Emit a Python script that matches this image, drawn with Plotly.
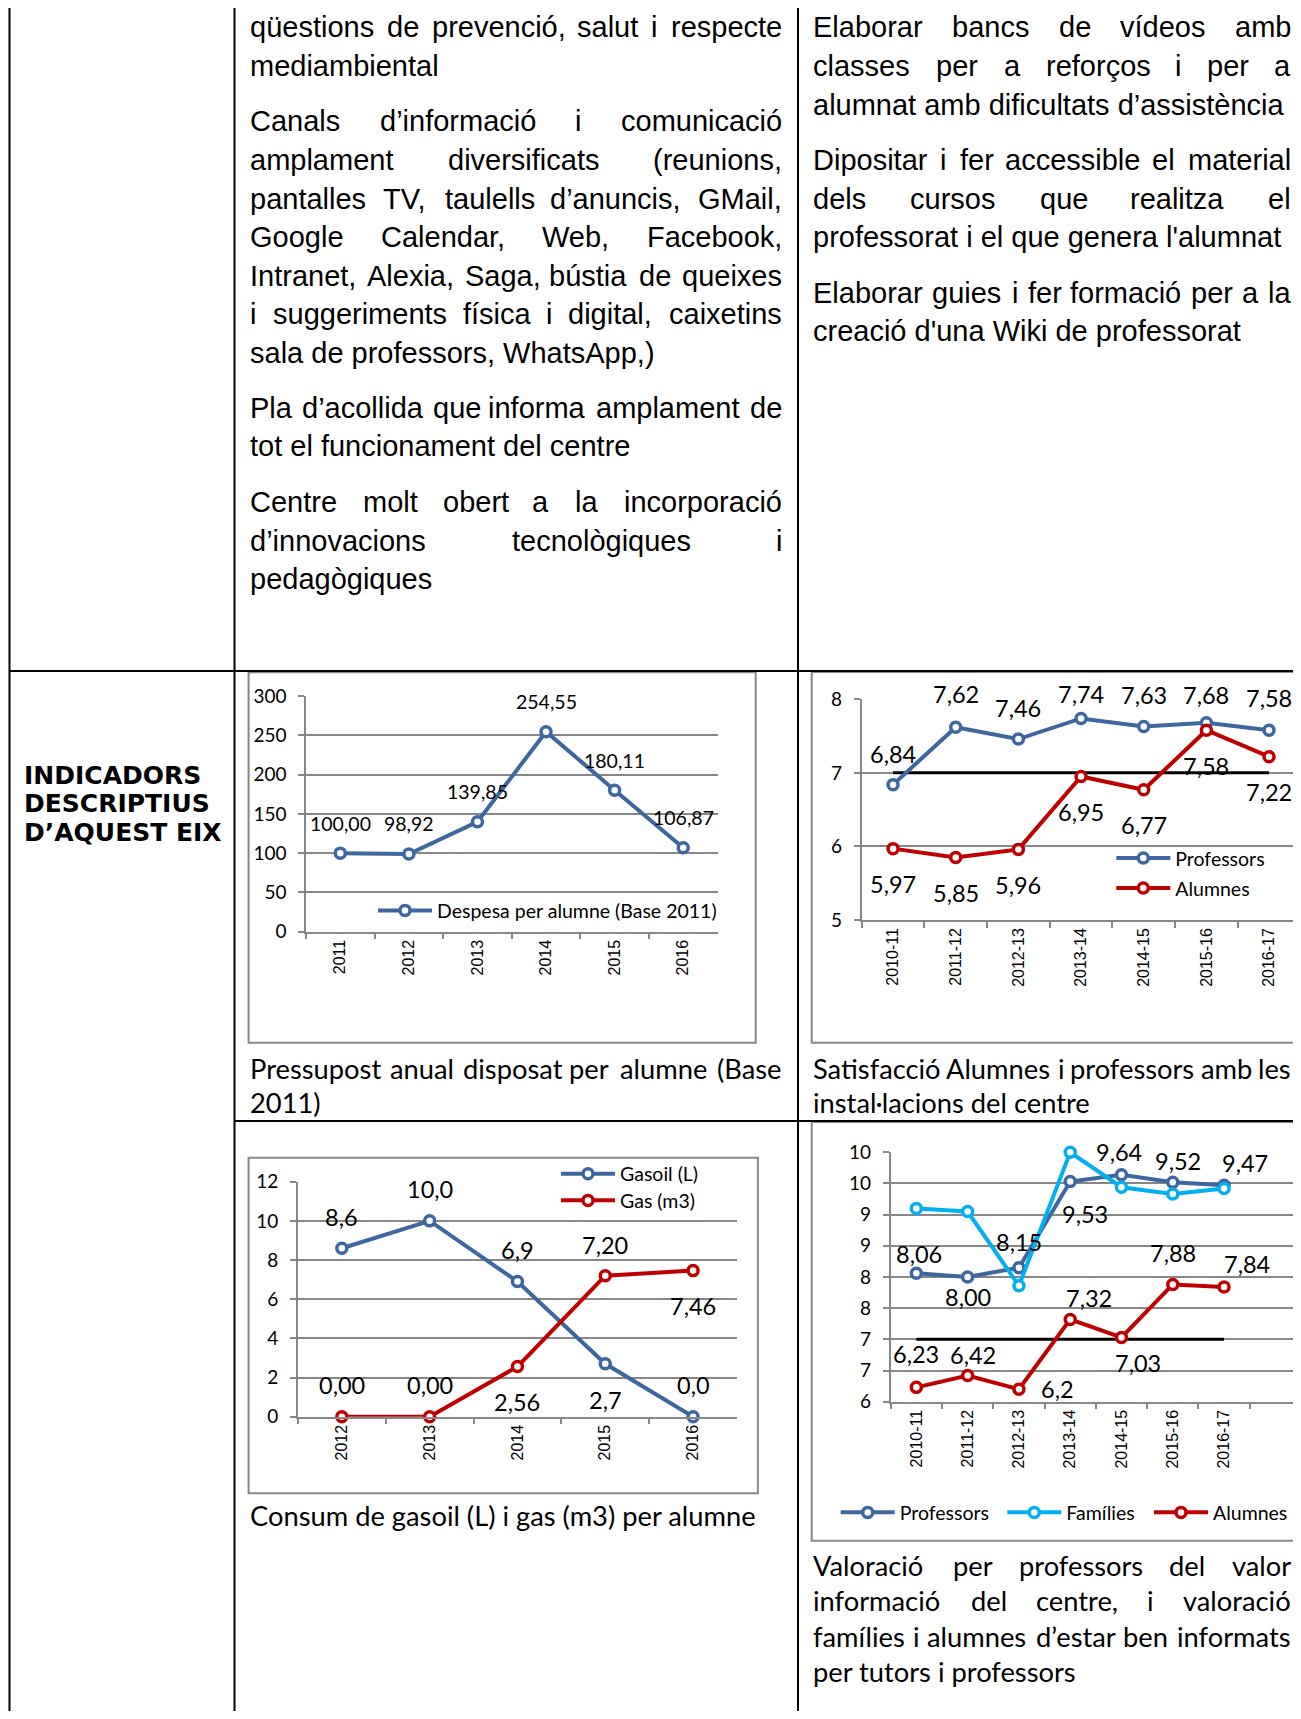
import plotly.graph_objects as go

W, H = 1301, 1719          # window size
OFF = 8                    # default page body margin around the figure
FW, FH = W - OFF, H - 2 * OFF  # keep the page from overflowing (no scrollbars)

# ---------------- data ----------------
budget_years = ["2011", "2012", "2013", "2014", "2015", "2016"]
budget_values = [100.00, 98.92, 139.85, 254.55, 180.11, 106.87]
budget_text = ["100,00", "98,92", "139,85", "254,55", "180,11", "106,87"]

sat_years = ["2010-11", "2011-12", "2012-13", "2013-14", "2014-15", "2015-16", "2016-17"]
sat_prof = [6.84, 7.62, 7.46, 7.74, 7.63, 7.68, 7.58]
sat_prof_text = ["6,84", "7,62", "7,46", "7,74", "7,63", "7,68", "7,58"]
sat_alum = [5.97, 5.85, 5.96, 6.95, 6.77, 7.58, 7.22]
sat_alum_text = ["5,97", "5,85", "5,96", "6,95", "6,77", "7,58", "7,22"]
sat_target = [7, 7, 7, 7, 7, 7, 7]

fuel_years = ["2012", "2013", "2014", "2015", "2016"]
fuel_gasoil = [8.6, 10.0, 6.9, 2.7, 0.0]
fuel_gasoil_text = ["8,6", "10,0", "6,9", "2,7", "0,0"]
fuel_gas = [0.00, 0.00, 2.56, 7.20, 7.46]
fuel_gas_text = ["0,00", "0,00", "2,56", "7,20", "7,46"]

info_years = ["2010-11", "2011-12", "2012-13", "2013-14", "2014-15", "2015-16", "2016-17", " "]
info_prof = [8.06, 8.00, 8.15, 9.53, 9.64, 9.52, 9.47]
info_prof_text = ["8,06", "8,00", "8,15", "9,53", "9,64", "9,52", "9,47"]
info_fam = [9.10, 9.05, 7.86, 10.00, 9.44, 9.33, 9.42]
info_alum = [6.23, 6.42, 6.20, 7.32, 7.03, 7.88, 7.84]
info_alum_text = ["6,23", "6,42", "6,2", "7,32", "7,03", "7,88", "7,84"]
info_target = [7, 7, 7, 7, 7, 7, 7]
info_ticks = [6, 6.5, 7, 7.5, 8, 8.5, 9, 9.5, 10]

# label offsets in pixels (dx, dy with dy positive downward) - placement only
off_budget = [(0, -30)] * 6
off_sat_prof = [(0, -31), (0, -33), (0, -31), (0, -24), (0, -32), (0, -28), (0, -32)]
off_sat_alum = [(0, 35.5)] * 7
off_gasoil = [(0, -31), (0, -32), (0, -32), (0, 36), (0, -32)]
off_gas = [(0, -32), (0, -32), (0, 35), (0, -31), (0, 35)]
off_info_prof = [(2.6, -19), (0, 20), (0, -25.6), (15, 32.6), (-2, -23), (5.6, -21), (20.7, -22)]
off_info_alum = [(-0.7, -33), (5, -21), (39, 0), (18.3, -21.3), (16.3, 26), (0.6, -31.7), (23.4, -23)]

# ---------------- text ----------------
col2_paras = [
    [("qüestions de prevenció, salut i respecte", True), ("mediambiental", False)],
    [("Canals d’informació i comunicació", True), ("amplament diversificats (reunions,", True),
     ("pantalles TV, taulells d’anuncis, GMail,", True), ("Google Calendar, Web, Facebook,", True),
     ("Intranet, Alexia, Saga, bústia de queixes", True), ("i suggeriments física i digital, caixetins", True),
     ("sala de professors, WhatsApp,)", False)],
    [("Pla d’acollida que informa amplament de", True), ("tot el funcionament del centre", False)],
    [("Centre molt obert a la incorporació", True), ("d’innovacions tecnològiques i", True),
     ("pedagògiques", False)],
]
col3_paras = [
    [("Elaborar bancs de vídeos amb", True), ("classes per a reforços i per a", True),
     ("alumnat amb dificultats d’assistència", False)],
    [("Dipositar i fer accessible el material", True), ("dels cursos que realitza el", True),
     ("professorat i el que genera l'alumnat", False)],
    [("Elaborar guies i fer formació per a la", True), ("creació d'una Wiki de professorat", False)],
]
side_title = ["INDICADORS", "DESCRIPTIUS", "D’AQUEST EIX"]
cap1 = [("Pressupost anual disposat per alumne (Base", True), ("2011)", False)]
cap2 = [("Satisfacció Alumnes i professors amb les", True), ("instal·lacions del centre", False)]
cap3 = [("Consum de gasoil (L) i gas (m3) per alumne", False)]
cap4 = [("Valoració per professors del valor", True), ("informació del centre, i valoració", True),
        ("famílies i alumnes d’estar ben informats", True), ("per tutors i professors", False)]

# ---------------- styles ----------------
BLUE = "#3D679E"
LBLUE = "#00B0F0"
RED = "#C00000"
GRID = "#878787"
ARIAL = "Liberation Sans, Arial"
CAL = "Lato, Carlito, Calibri"
BODY_SIZE = 29
CAP_SIZE = 27.3
LATO_K = 1.075
TICK_SIZE = 19
LEG_SIZE = 19.5
XT_SIZE = 16

arial_w = {' ': 278, "'": 191, '’': 222, '(': 333, ')': 333, ',': 278, '.': 278, '-': 333, '·': 278,
           'A': 667, 'B': 667, 'C': 722, 'D': 722, 'E': 667, 'F': 611, 'G': 778, 'H': 722, 'I': 278,
           'J': 500, 'K': 667, 'L': 556, 'M': 833, 'N': 722, 'O': 778, 'P': 667, 'Q': 778, 'R': 722,
           'S': 667, 'T': 611, 'U': 722, 'V': 667, 'W': 944, 'X': 667, 'Y': 667, 'Z': 611,
           'a': 556, 'b': 556, 'c': 500, 'd': 556, 'e': 556, 'f': 278, 'g': 556, 'h': 556, 'i': 222,
           'j': 222, 'k': 500, 'l': 222, 'm': 833, 'n': 556, 'o': 556, 'p': 556, 'q': 556, 'r': 333,
           's': 500, 't': 278, 'u': 556, 'v': 500, 'w': 722, 'x': 500, 'y': 500, 'z': 500,
           'à': 556, 'á': 556, 'è': 556, 'é': 556, 'ò': 556, 'ó': 556, 'ú': 556, 'ü': 556,
           'í': 278, 'ï': 278, 'ç': 500}
cal_w = {' ': 226, "'": 221, '’': 250, '(': 303, ')': 303, ',': 250, '.': 252, '-': 306, '·': 252,
         'A': 650, 'B': 600, 'C': 600, 'D': 680, 'E': 540, 'F': 510, 'G': 690, 'H': 690, 'I': 270,
         'J': 350, 'K': 580, 'L': 460, 'M': 900, 'N': 700, 'O': 730, 'P': 570, 'Q': 730, 'R': 590,
         'S': 520, 'T': 540, 'U': 680, 'V': 630, 'W': 960, 'X': 580, 'Y': 560, 'Z': 520,
         'a': 479, 'b': 525, 'c': 423, 'd': 525, 'e': 498, 'f': 305, 'g': 471, 'h': 525, 'i': 229,
         'j': 239, 'k': 455, 'l': 229, 'm': 799, 'n': 525, 'o': 527, 'p': 525, 'q': 525, 'r': 349,
         's': 391, 't': 335, 'u': 525, 'v': 452, 'w': 715, 'x': 433, 'y': 453, 'z': 395,
         'à': 479, 'á': 479, 'è': 498, 'é': 498, 'ò': 527, 'ó': 527, 'ú': 525, 'ü': 525,
         'í': 229, 'ï': 229, 'ç': 423}


def w_arial(s, size):
    return sum(arial_w.get(c, 556) for c in s) / 1000 * size


def w_cal(s, size):
    return sum(cal_w.get(c, 500) for c in s) / 1000 * size * LATO_K


def PX(x):
    return (x - OFF) / FW


def PY(y):
    return 1 - (y - OFF) / FH


annotations = []


def text_line(text, y, x0, x1, justify, family, size, wfun):
    words = text.split(" ")
    base = dict(xref="paper", yref="paper", y=PY(y), yanchor="middle", showarrow=False,
                borderpad=0, font=dict(family=family, size=size, color="black"))
    if not justify or len(words) == 1:
        annotations.append(dict(base, x=PX(x0), xanchor="left", text=text))
        return
    n = len(words)
    widths = [wfun(w, size) for w in words]
    gap = (x1 - x0 - sum(widths)) / (n - 1)
    half = (n + 1) // 2
    x = x0
    for i in range(half):
        annotations.append(dict(base, x=PX(x), xanchor="left", text=words[i]))
        x += widths[i] + gap
    x = x1
    for i in range(n - 1, half - 1, -1):
        annotations.append(dict(base, x=PX(x), xanchor="right", text=words[i]))
        x -= widths[i] + gap


def paragraphs(paras, x0, x1, y0, step, pgap):
    idx = 0
    for p, para in enumerate(paras):
        for txt, just in para:
            text_line(txt, y0 + step * idx + pgap * p, x0, x1, just, ARIAL, BODY_SIZE, w_arial)
            idx += 1


paragraphs(col2_paras, 249, 782.5, 27.5, 38.5, 17)
paragraphs(col3_paras, 812, 1292, 27.5, 38.5, 17)

for i, t in enumerate(side_title):
    annotations.append(dict(xref="paper", yref="paper", x=PX(22.5), y=PY(775 + 28.8 * i), xanchor="left",
                            yanchor="middle", showarrow=False, borderpad=0, text="<b>" + t + "</b>",
                            font=dict(family="DejaVu Sans", size=25, color="black")))


def caption(lines, x0, x1, y0, step):
    for i, (txt, just) in enumerate(lines):
        text_line(txt, y0 + step * i, x0, x1, just, CAL, CAP_SIZE, w_cal)


caption(cap1, 249, 782.5, 1068.5, 33.5)
caption(cap2, 812, 1292, 1068.5, 33.5)
caption(cap3, 249, 782.5, 1515.5, 33.5)
caption(cap4, 812, 1292, 1565, 35.5)

# ---------------- figure ----------------
fig = go.Figure()


def line_trace(x, y, color, name, xa, ya, legend, show=True, markers=True, width=4):
    fig.add_trace(go.Scatter(
        x=x, y=y, name=name, mode="lines+markers" if markers else "lines",
        line=dict(color=color, width=width),
        marker=dict(symbol="circle", size=10, color="white", line=dict(color=color, width=3.5)),
        xaxis=xa, yaxis=ya, legend=legend, showlegend=show, cliponaxis=False, hoverinfo="skip"))


line_trace(budget_years, budget_values, BLUE, "Despesa per alumne (Base 2011)", "x", "y", "legend")
line_trace(sat_years, sat_target, "black", "Objectiu", "x2", "y2", "legend2", show=False, markers=False, width=3)
line_trace(sat_years, sat_prof, BLUE, "Professors", "x2", "y2", "legend2")
line_trace(sat_years, sat_alum, RED, "Alumnes", "x2", "y2", "legend3")
line_trace(fuel_years, fuel_gasoil, BLUE, "Gasoil (L)", "x3", "y3", "legend4")
line_trace(fuel_years, fuel_gas, RED, "Gas (m3)", "x3", "y3", "legend5")
line_trace(info_years[:7], info_target, "black", "Objectiu", "x4", "y4", "legend6", show=False, markers=False, width=3)
line_trace(info_years[:7], info_prof, BLUE, "Professors", "x4", "y4", "legend6")
line_trace(info_years[:7], info_fam, LBLUE, "Famílies", "x4", "y4", "legend7")
line_trace(info_years[:7], info_alum, RED, "Alumnes", "x4", "y4", "legend8")


def data_labels(ys, texts, offs, xa, ya, size):
    # category index position on the axis (numeric-looking category names would be misread)
    for i, (yv, t, (dx, dy)) in enumerate(zip(ys, texts, offs)):
        annotations.append(dict(xref=xa, yref=ya, x=i, y=yv, text=t, showarrow=False,
                                xanchor="center", yanchor="middle", xshift=dx, yshift=-dy,
                                font=dict(family=CAL, size=size, color="black")))


data_labels(budget_values, budget_text, off_budget, "x", "y", 19.5)
data_labels(sat_prof, sat_prof_text, off_sat_prof, "x2", "y2", 23.5)
data_labels(sat_alum, sat_alum_text, off_sat_alum, "x2", "y2", 23.5)
data_labels(fuel_gasoil, fuel_gasoil_text, off_gasoil, "x3", "y3", 23.5)
data_labels(fuel_gas, fuel_gas_text, off_gas, "x3", "y3", 23.5)
data_labels(info_prof, info_prof_text, off_info_prof, "x4", "y4", 23.5)
data_labels(info_alum, info_alum_text, off_info_alum, "x4", "y4", 23.5)


def xax(cats, x0, x1, anchor):
    return dict(type="category", categoryorder="array", categoryarray=cats,
                range=[-0.5, len(cats) - 0.5], domain=[PX(x0), min(1, PX(x1))], anchor=anchor,
                showline=True, linecolor=GRID, linewidth=1.5, ticks="outside", tickson="boundaries",
                ticklen=6, tickwidth=1.5, tickcolor=GRID, tickangle=-90, showgrid=False, zeroline=False,
                automargin=False,
                tickfont=dict(family=ARIAL, size=XT_SIZE, color="black"), fixedrange=True)


def yax(rng, y_top, y_bot, anchor, dtick=None, tickvals=None, ticktext=None):
    d = dict(range=rng, domain=[PY(y_bot), PY(y_top)], anchor=anchor, showline=True, linecolor=GRID,
             linewidth=1.5, ticks="outside", ticklen=6, tickwidth=1.5, tickcolor=GRID, showgrid=True,
             gridcolor=GRID, gridwidth=1.5, zeroline=False, ticklabelstandoff=8, automargin=False,
             tickfont=dict(family=CAL, size=TICK_SIZE, color="black"), fixedrange=True)
    if dtick is not None:
        d.update(dtick=dtick, tick0=0)
    if tickvals is not None:
        d.update(tickmode="array", tickvals=tickvals, ticktext=ticktext)
    return d


info_ticktext = [str(int(v + 0.5)) for v in info_ticks]

fig.update_layout(
    width=FW, height=FH, margin=dict(l=0, r=0, t=0, b=0, pad=0, autoexpand=False),
    paper_bgcolor="white", plot_bgcolor="rgba(0,0,0,0)",
    xaxis=xax(budget_years, 306, 717.5, "y"), yaxis=yax([0, 300], 696, 931.7, "x", dtick=50),
    xaxis2=xax(sat_years, 861.7, 1300.4, "y2"), yaxis2=yax([5, 8], 699.3, 920, "x2", dtick=1),
    xaxis3=xax(fuel_years, 297.9, 737, "y3"), yaxis3=yax([0, 12], 1181.7, 1416.7, "x3", dtick=2),
    xaxis4=xax(info_years, 890.7, 1301, "y4"),
    yaxis4=yax([6, 10], 1152.3, 1401.7, "x4", tickvals=info_ticks, ticktext=info_ticktext),
    annotations=annotations,
)


def legend_at(marker_x, y):
    return dict(x=PX(marker_x - 32), y=PY(y), xanchor="left", yanchor="middle", bgcolor="rgba(0,0,0,0)",
                borderwidth=0, itemwidth=54, font=dict(family=CAL, size=LEG_SIZE, color="black"),
                orientation="v")


fig.update_layout(
    legend=legend_at(405, 910.7),
    legend2=legend_at(1143.3, 858.3),
    legend3=legend_at(1143.3, 888.3),
    legend4=legend_at(588, 1174),
    legend5=legend_at(588, 1200.7),
    legend6=legend_at(867.7, 1512.7),
    legend7=legend_at(1034.3, 1512.7),
    legend8=legend_at(1181, 1512.7),
)

shapes = []
for (x0, y0, x1, y1) in [(248.6, 672.3, 755.7, 1042.7), (811.7, 672, 1315, 1042.7),
                         (248.6, 1157.7, 757.9, 1493.3), (811.7, 1122, 1315, 1540.7)]:
    shapes.append(dict(type="rect", xref="paper", yref="paper", x0=PX(x0), x1=PX(x1), y0=PY(y1), y1=PY(y0),
                       line=dict(color=GRID, width=2), fillcolor="rgba(0,0,0,0)", layer="below"))
for x in [9.5, 234.5, 798]:
    shapes.append(dict(type="line", xref="paper", yref="paper", x0=PX(x), x1=PX(x), y0=-0.01, y1=1.01,
                       line=dict(color="black", width=2), layer="above"))
for (x0, x1, y) in [(9.5, 1301, 671), (234.5, 1301, 1121)]:
    shapes.append(dict(type="line", xref="paper", yref="paper", x0=PX(x0), x1=PX(x1), y0=PY(y), y1=PY(y),
                       line=dict(color="black", width=2), layer="above"))
fig.update_layout(shapes=shapes)

fig.write_html("out.html")
